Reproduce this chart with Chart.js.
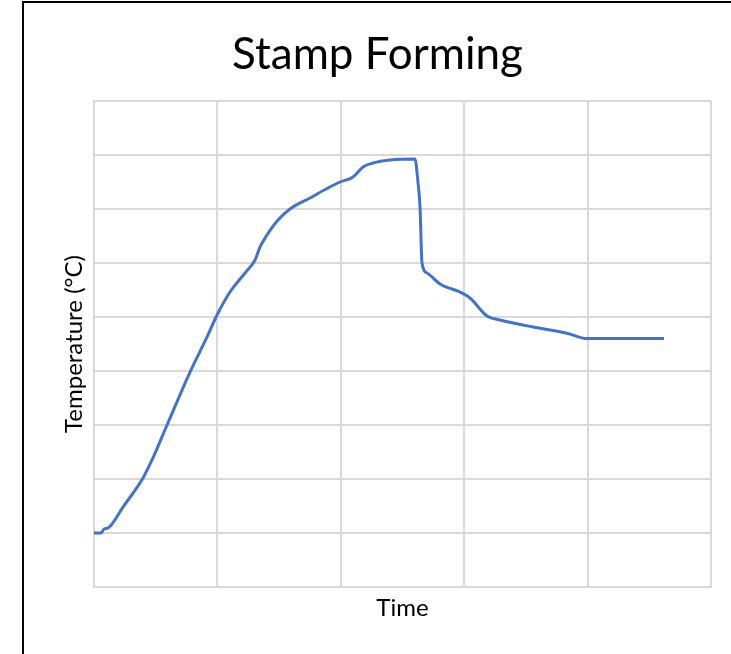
<!DOCTYPE html>
<html>
<head>
<meta charset="utf-8">
<title>Stamp Forming</title>
<script src="https://cdn.jsdelivr.net/npm/chart.js@4/dist/chart.umd.min.js"></script>
<style>
  html, body { margin: 0; padding: 0; background: #fff; overflow: hidden; width: 731px; height: 654px; }
  #wrap { position: absolute; left: 22px; top: 0; width: 711px; height: 654px; }
  #frame { position: absolute; left: 22px; top: 1px; width: 760px; height: 700px;
           border-left: 2px solid #000; border-top: 2px solid #000; pointer-events: none; }
</style>
</head>
<body>
<div id="wrap"><canvas id="chart" width="711" height="654"></canvas></div>
<div id="frame"></div>
<script>
// Temperature profile over one stamp-forming cycle (arbitrary units, no tick labels shown)
const timeValues = [
  0.000, 0.057, 0.081, 0.113, 0.235, 0.397, 0.470, 0.592, 0.778, 0.916,
  0.997, 1.102, 1.224, 1.305, 1.345, 1.402, 1.491, 1.588, 1.750, 1.896,
  1.994, 2.099, 2.180, 2.261, 2.399, 2.601, 2.626, 2.642, 2.658, 2.699,
  2.804, 2.966, 3.047, 3.185, 3.290, 3.558, 3.833, 3.995, 4.619
];
const temperatureValues = [
  1.000, 1.000, 1.074, 1.093, 1.481, 2.019, 2.352, 3.000, 3.981, 4.630,
  5.037, 5.463, 5.815, 6.056, 6.296, 6.519, 6.796, 7.000, 7.204, 7.389,
  7.500, 7.593, 7.778, 7.852, 7.907, 7.926, 7.481, 7.037, 6.000, 5.815,
  5.611, 5.463, 5.352, 5.019, 4.944, 4.815, 4.700, 4.600, 4.600
];
const xRange = [0, 5];
const yRange = [0, 9];

const chartTitle = 'Stamp Forming';
const xTitle = 'Time';
const yTitle = 'Temperature (°C)';

const points = timeValues.map((t, i) => ({ x: t, y: temperatureValues[i] }));
const gridColor = '#d9d9d9';
const fontFamily = 'Lato, "Open Sans", sans-serif';

new Chart(document.getElementById('chart'), {
  type: 'line',
  data: {
    datasets: [{
      data: points,
      borderColor: '#4472C4',
      borderWidth: 3,
      pointRadius: 0,
      cubicInterpolationMode: 'monotone',
      fill: false
    }]
  },
  options: {
    responsive: false,
    animation: false,
    events: [],
    layout: { padding: { left: 22, right: 22, top: 0, bottom: 0 } },
    plugins: {
      legend: { display: false },
      tooltip: { enabled: false },
      title: {
        display: true,
        text: chartTitle,
        color: '#000',
        font: { family: fontFamily, size: 44, weight: 'normal', lineHeight: 1.2 },
        padding: { top: 28, bottom: 20.2 }
      }
    },
    scales: {
      x: {
        type: 'linear',
        min: xRange[0],
        max: xRange[1],
        ticks: { display: false, stepSize: 1 },
        grid: { color: gridColor, lineWidth: 2, drawTicks: false },
        border: { color: gridColor, width: 2 },
        title: {
          display: true,
          text: xTitle,
          color: '#000',
          font: { family: fontFamily, size: 24, lineHeight: 1.2 },
          padding: { top: 0, bottom: 31.6 }
        },
        afterFit: (axis) => { axis.height = 67; }
      },
      y: {
        type: 'linear',
        min: yRange[0],
        max: yRange[1],
        ticks: { display: false, stepSize: 1 },
        grid: { color: gridColor, lineWidth: 2, drawTicks: false },
        border: { color: gridColor, width: 2 },
        title: {
          display: true,
          text: yTitle,
          color: '#000',
          font: { family: fontFamily, size: 24, lineHeight: 1.2 },
          padding: { top: 16, bottom: 0 }
        },
        afterFit: (axis) => { axis.width = 50; }
      }
    }
  }
});
</script>
</body>
</html>
